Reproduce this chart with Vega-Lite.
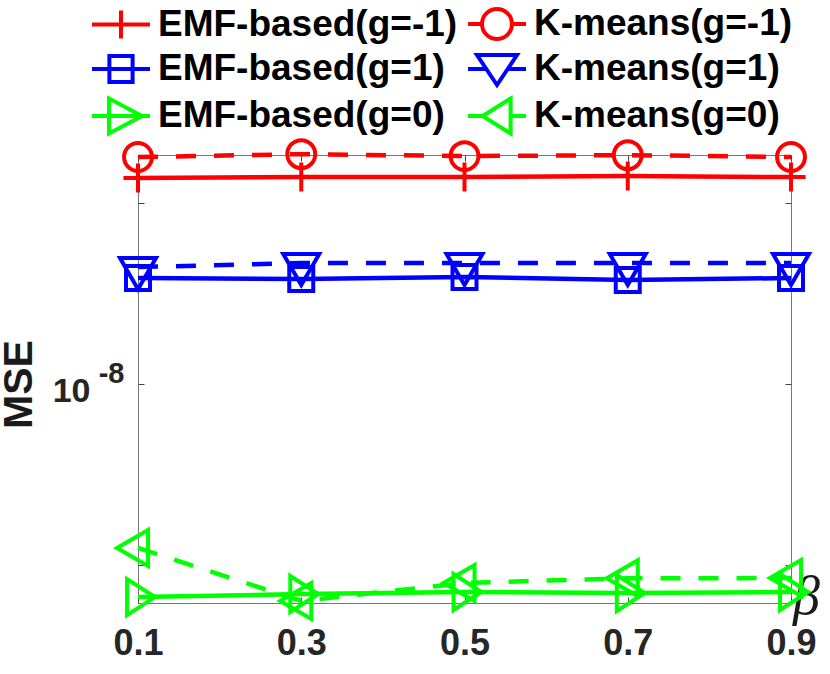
{
  "$schema": "https://vega.github.io/schema/vega-lite/v6.json",
  "width": 653,
  "height": 448,
  "autosize": "none",
  "padding": {"left": 138, "top": 155, "right": 39, "bottom": 71},
  "background": "white",
  "data": {
    "values": [
      {"beta": 0.1, "method": "EMF-based", "g": "-1", "series": "EMF-based(g=-1)", "mse": 2.202e-8},
      {"beta": 0.3, "method": "EMF-based", "g": "-1", "series": "EMF-based(g=-1)", "mse": 2.210e-8},
      {"beta": 0.5, "method": "EMF-based", "g": "-1", "series": "EMF-based(g=-1)", "mse": 2.210e-8},
      {"beta": 0.7, "method": "EMF-based", "g": "-1", "series": "EMF-based(g=-1)", "mse": 2.219e-8},
      {"beta": 0.9, "method": "EMF-based", "g": "-1", "series": "EMF-based(g=-1)", "mse": 2.210e-8},
      {"beta": 0.1, "method": "K-means", "g": "-1", "series": "K-means(g=-1)", "mse": 2.386e-8},
      {"beta": 0.3, "method": "K-means", "g": "-1", "series": "K-means(g=-1)", "mse": 2.413e-8},
      {"beta": 0.5, "method": "K-means", "g": "-1", "series": "K-means(g=-1)", "mse": 2.395e-8},
      {"beta": 0.7, "method": "K-means", "g": "-1", "series": "K-means(g=-1)", "mse": 2.404e-8},
      {"beta": 0.9, "method": "K-means", "g": "-1", "series": "K-means(g=-1)", "mse": 2.386e-8},
      {"beta": 0.1, "method": "EMF-based", "g": "1", "series": "EMF-based(g=1)", "mse": 1.501e-8},
      {"beta": 0.3, "method": "EMF-based", "g": "1", "series": "EMF-based(g=1)", "mse": 1.495e-8},
      {"beta": 0.5, "method": "EMF-based", "g": "1", "series": "EMF-based(g=1)", "mse": 1.507e-8},
      {"beta": 0.7, "method": "EMF-based", "g": "1", "series": "EMF-based(g=1)", "mse": 1.489e-8},
      {"beta": 0.9, "method": "EMF-based", "g": "1", "series": "EMF-based(g=1)", "mse": 1.501e-8},
      {"beta": 0.1, "method": "K-means", "g": "1", "series": "K-means(g=1)", "mse": 1.565e-8},
      {"beta": 0.3, "method": "K-means", "g": "1", "series": "K-means(g=1)", "mse": 1.590e-8},
      {"beta": 0.5, "method": "K-means", "g": "1", "series": "K-means(g=1)", "mse": 1.590e-8},
      {"beta": 0.7, "method": "K-means", "g": "1", "series": "K-means(g=1)", "mse": 1.590e-8},
      {"beta": 0.9, "method": "K-means", "g": "1", "series": "K-means(g=1)", "mse": 1.590e-8},
      {"beta": 0.1, "method": "EMF-based", "g": "0", "series": "EMF-based(g=0)", "mse": 4.419e-9},
      {"beta": 0.3, "method": "EMF-based", "g": "0", "series": "EMF-based(g=0)", "mse": 4.471e-9},
      {"beta": 0.5, "method": "EMF-based", "g": "0", "series": "EMF-based(g=0)", "mse": 4.506e-9},
      {"beta": 0.7, "method": "EMF-based", "g": "0", "series": "EMF-based(g=0)", "mse": 4.488e-9},
      {"beta": 0.9, "method": "EMF-based", "g": "0", "series": "EMF-based(g=0)", "mse": 4.506e-9},
      {"beta": 0.1, "method": "K-means", "g": "0", "series": "K-means(g=0)", "mse": 5.335e-9},
      {"beta": 0.3, "method": "K-means", "g": "0", "series": "K-means(g=0)", "mse": 4.354e-9},
      {"beta": 0.5, "method": "K-means", "g": "0", "series": "K-means(g=0)", "mse": 4.665e-9},
      {"beta": 0.7, "method": "K-means", "g": "0", "series": "K-means(g=0)", "mse": 4.750e-9},
      {"beta": 0.9, "method": "K-means", "g": "0", "series": "K-means(g=0)", "mse": 4.753e-9}
    ]
  },
  "layer": [
    {
      "description": "solid lines",
      "transform": [{"filter": "datum.method === 'EMF-based'"}],
      "mark": {"type": "line", "strokeWidth": 4.5},
      "encoding": {
        "x": {
          "field": "beta", "type": "quantitative",
          "scale": {"domain": [0.1, 0.9], "nice": false, "zero": false},
          "axis": {
            "orient": "bottom", "values": [0.1, 0.3, 0.5, 0.7, 0.9], "format": ".1f", "labelFlush": false,
            "tickSize": -6, "labelPadding": 29, "labelFontSize": 36, "labelBaseline": "top",
            "title": "β", "titleFont": "Liberation Serif", "titleFontStyle": "italic", "titleFontWeight": "normal",
            "titleFontSize": 54, "titleX": 668, "titleY": 10, "titleBaseline": "alphabetic", "titleAlign": "center",
            "titleColor": "#1a1a1a"
          }
        },
        "y": {
          "field": "mse", "type": "quantitative",
          "scale": {"type": "log", "domain": [4.32e-9, 2.405e-8], "nice": false},
          "axis": {
            "orient": "left", "values": [5e-9, 1e-8, 2e-8], "labelFlush": false,
            "labelExpr": "abs(log(datum.value) / LN10 + 8) < 0.01 ? '10' : ''",
            "tickSize": -6, "labelPadding": 54, "labelFontSize": 34, "labelOffset": 8, "labelBaseline": "middle",
            "title": "MSE", "titleFontSize": 41, "titleX": -107, "titleY": 229, "titleAngle": 270,
            "titleBaseline": "alphabetic", "titleAlign": "center", "titleColor": "#1a1a1a"
          }
        },
        "color": {
          "field": "g", "type": "nominal",
          "scale": {"domain": ["-1", "1", "0"], "range": ["#ff0000", "#0000ff", "#00ff00"]},
          "legend": null
        }
      }
    },
    {
      "description": "dashed lines",
      "transform": [{"filter": "datum.method === 'K-means'"}],
      "mark": {"type": "line", "strokeWidth": 4.5, "strokeDash": [20, 18]},
      "encoding": {
        "x": {
          "field": "beta", "type": "quantitative",
          "axis": {"orient": "top", "values": [0.1, 0.3, 0.5, 0.7, 0.9], "labels": false, "tickSize": -6, "title": null}
        },
        "y": {
          "field": "mse", "type": "quantitative",
          "axis": {"orient": "right", "values": [5e-9, 1e-8, 2e-8], "labels": false, "tickSize": -6, "title": null}
        },
        "color": {
          "field": "g", "type": "nominal",
          "scale": {"domain": ["-1", "1", "0"], "range": ["#ff0000", "#0000ff", "#00ff00"]},
          "legend": null
        }
      }
    },
    {
      "description": "markers",
      "mark": {"type": "point", "filled": false, "strokeWidth": 4, "size": 900, "opacity": 1},
      "encoding": {
        "x": {"field": "beta", "type": "quantitative", "axis": null},
        "y": {
          "field": "mse", "type": "quantitative",
          "axis": {
            "orient": "left", "values": [1e-8], "labelExpr": "'-8'", "ticks": false, "labelFlush": false,
            "labelPadding": 14, "labelFontSize": 29, "labelOffset": -10, "labelBaseline": "middle", "title": null
          }
        },
        "color": {
          "field": "g", "type": "nominal",
          "scale": {"domain": ["-1", "1", "0"], "range": ["#ff0000", "#0000ff", "#00ff00"]},
          "legend": null
        },
        "shape": {
          "field": "series", "type": "nominal",
          "scale": {
            "domain": ["EMF-based(g=-1)", "K-means(g=-1)", "EMF-based(g=1)", "K-means(g=1)", "EMF-based(g=0)", "K-means(g=0)"],
            "range": [
              "M-0.97,0H0.97M0,-0.97V0.97",
              "M-0.93,0A0.93,0.93 0 1,0 0.93,0A0.93,0.93 0 1,0 -0.93,0Z",
              "M-0.8,-0.8H0.8V0.8H-0.8Z",
              "M-1.2,-0.6H1.2L0,1.47Z",
              "M-0.73,-1.2V1.2L1.13,0Z",
              "M0.67,-1.2V1.2L-1.4,0Z"
            ]
          },
          "legend": null
        }
      }
    },
    {
      "description": "legend only",
      "transform": [{"filter": "false"}],
      "mark": {"type": "point", "filled": false, "strokeWidth": 4, "size": 1600, "opacity": 1},
      "encoding": {
        "x": {"field": "beta", "type": "quantitative", "axis": null},
        "y": {"field": "mse", "type": "quantitative", "axis": null},
        "color": {
          "field": "series", "type": "nominal",
          "scale": {
            "domain": ["EMF-based(g=-1)", "K-means(g=-1)", "EMF-based(g=1)", "K-means(g=1)", "EMF-based(g=0)", "K-means(g=0)"],
            "range": ["#ff0000", "#ff0000", "#0000ff", "#0000ff", "#00ff00", "#00ff00"]
          },
          "legend": {
            "orient": "none", "legendX": -39, "legendY": -153, "columns": 2, "direction": "horizontal", "title": null,
            "symbolSize": 1600, "symbolStrokeWidth": 4, "symbolOpacity": 1, "labelFontSize": 37, "labelFontWeight": "bold",
            "labelColor": "#000000", "labelOffset": 15, "columnPadding": 2, "rowPadding": -3,
            "padding": 0, "labelLimit": 0
          }
        },
        "shape": {
          "field": "series", "type": "nominal",
          "scale": {
            "domain": ["EMF-based(g=-1)", "K-means(g=-1)", "EMF-based(g=1)", "K-means(g=1)", "EMF-based(g=0)", "K-means(g=0)"],
            "range": [
              "M-1.45,0H1.45M0,-0.7V0.7",
              "M-1.45,0H-0.75M0.75,0H1.45M-0.75,0A0.75,0.75 0 1,0 0.75,0A0.75,0.75 0 1,0 -0.75,0",
              "M-1.45,0H1.45M-0.58,-0.65H0.58V0.65H-0.58Z",
              "M-1.45,0H-0.53M0.53,0H1.45M-1.0,-0.7H1.0L0,0.8Z",
              "M-1.45,0H1.45M-0.6,-0.87V0.87L1.05,0Z",
              "M-1.45,0H-0.72M0.68,0H1.45M0.68,-0.87V0.87L-0.72,0Z"
            ]
          },
          "legend": {
            "orient": "none", "legendX": -39, "legendY": -153, "columns": 2, "direction": "horizontal", "title": null,
            "symbolSize": 1600, "symbolStrokeWidth": 4, "symbolOpacity": 1, "labelFontSize": 37, "labelFontWeight": "bold",
            "labelColor": "#000000", "labelOffset": 15, "columnPadding": 2, "rowPadding": -3,
            "padding": 0, "labelLimit": 0
          }
        }
      }
    }
  ],
  "resolve": {
    "scale": {"color": "independent", "shape": "independent"},
    "axis": {"x": "independent", "y": "independent"}
  },
  "config": {
    "font": "Liberation Sans",
    "view": {"stroke": "#777777", "strokeWidth": 1},
    "axis": {
      "grid": false, "domain": false, "tickColor": "#444444", "tickWidth": 1,
      "labelFontWeight": "bold", "labelColor": "#262626", "titleFontWeight": "bold"
    }
  }
}
